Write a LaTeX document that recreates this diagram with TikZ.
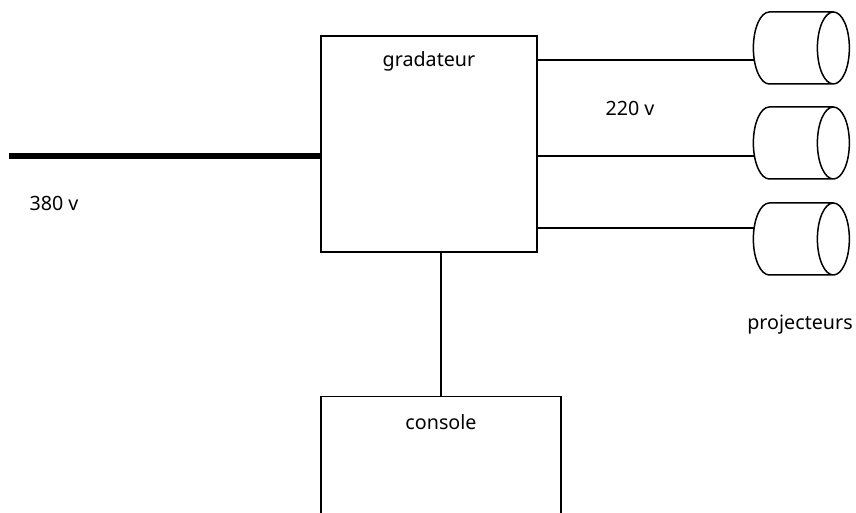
\documentclass[tikz,border=0pt]{standalone}
\usepackage{fontspec}
\setmainfont{Noto Sans}
\usetikzlibrary{shapes.geometric,positioning,calc}
\tikzset{
    wire/.style={line width=0.85pt},
    mainsline/.style={line width=3.4pt},
    boxnode/.style={draw, line width=0.85pt, inner sep=0pt},
    projnode/.style={draw, line width=0.85pt, cylinder, shape aspect=0.444, inner xsep=0pt, inner ysep=0.72cm,
        minimum width=1.44cm, minimum height=1.92cm},
    caption/.style={font=\fontsize{11.2pt}{13pt}\selectfont, inner sep=0pt}
}
\begin{document}
\begin{tikzpicture}
    \useasboundingbox (0,0) rectangle (17.12,10.26);
    \clip (0,0) rectangle (17.12,10.26);

    % Boxes
    \node[boxnode, minimum width=4.32cm, minimum height=4.32cm] (gradateur) at (8.58,7.38) {};
    \node[boxnode, anchor=north, minimum width=4.8cm, minimum height=3.4cm] (console) at (8.82,2.34) {};

    % Projectors and their wires
    \foreach \name/\y/\wy in {projA/9.3/9.06, projB/7.4/7.14, projC/5.48/5.7} {
        \node[projnode] (\name) at (15.7,\y) {};
        \coordinate (\name wire) at (15.07,\wy);
        \draw[wire] (\name wire) -- (\name wire -| gradateur.east);
    }

    % Supply line
    \coordinate (mains) at (0.18,7.14);
    \draw[mainsline] (mains) -- (mains -| gradateur.west);

    % Control line
    \draw[wire] (console.north) -- (console.north |- gradateur.south);

    % Labels
    \node[caption] (gradlabel) at (8.58,9.03) {gradateur};
    \node[caption] (conslabel) at (8.82,1.82) {console};
    \node[caption] (lowv) at (1.08,6.2) {380 v};
    \node[caption] (highv) at (12.6,8.1) {220 v};
    \node[caption] (projlabel) at (16,3.76) {projecteurs};
\end{tikzpicture}
\end{document}
